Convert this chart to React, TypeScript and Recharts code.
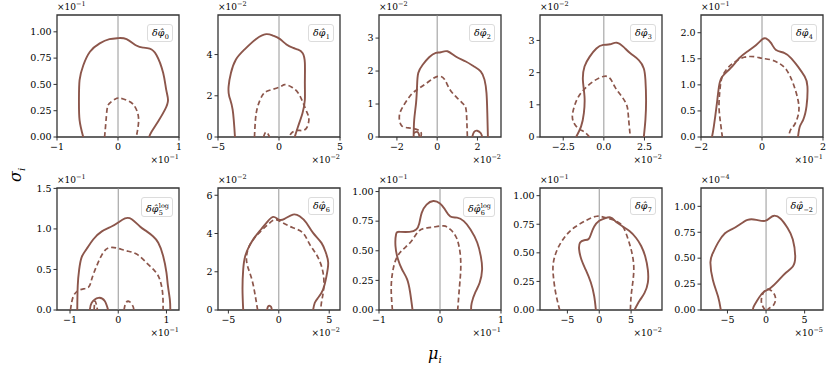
import {
  LineChart,
  Line,
  XAxis,
  YAxis,
  ReferenceLine,
  ReferenceArea,
} from "recharts";
import { ReactElement } from "react";

type Pt = [number, number];

// contour points, in the displayed (scaled) units
const p0Solid: Pt[] = [[-0.57, 0], [-0.63, 0.16], [-0.64, 0.35], [-0.63, 0.54], [-0.57, 0.68], [-0.46, 0.81], [-0.3, 0.89], [-0.14, 0.93], [0, 0.94], [0.14, 0.93], [0.3, 0.87], [0.41, 0.85], [0.52, 0.84], [0.63, 0.78], [0.74, 0.61], [0.79, 0.45], [0.82, 0.35], [0.77, 0.26], [0.66, 0.15], [0.55, 0.05], [0.51, 0]];
const p0Dash: Pt[] = [[-0.22, 0], [-0.2, 0.13], [-0.18, 0.26], [-0.14, 0.32], [-0.05, 0.36], [0.03, 0.37], [0.14, 0.35], [0.25, 0.31], [0.33, 0.21], [0.33, 0.1], [0.3, 0]];

const p1Solid: Pt[] = [[-3.61, 0], [-3.8, 1.33], [-4.08, 1.98], [-4.13, 2.46], [-3.94, 3.11], [-3.53, 3.76], [-2.84, 4.24], [-1.87, 4.76], [-1.05, 4.99], [-0.5, 4.92], [0.06, 4.76], [0.61, 4.49], [1.16, 4.32], [1.57, 4.24], [1.93, 4.08], [2.12, 3.6], [2.12, 2.62], [2.12, 1.81], [1.93, 1.17], [1.57, 0.52], [1.29, 0]];
const p1Dash: Pt[] = [[-2.01, 0], [-1.93, 0.84], [-1.74, 1.49], [-1.32, 2.06], [-0.77, 2.27], [0.06, 2.43], [0.47, 2.54], [1.02, 2.43], [1.57, 2.14], [1.98, 1.65], [2.31, 1.17], [2.45, 0.84], [2.26, 0.44], [1.85, 0.31], [1.43, 0.32], [1.02, 0.19], [0.88, 0]];
const p1DashSmall: Pt[] = [[-1.27, 0], [-1.1, 0.23], [-0.91, 0.16], [-0.77, 0]];

const p2Solid: Pt[] = [[-1.17, 0], [-1.14, 0.53], [-1.05, 1.03], [-1.0, 1.54], [-0.94, 1.94], [-0.72, 2.19], [-0.4, 2.42], [-0.07, 2.55], [0.18, 2.57], [0.51, 2.6], [0.92, 2.44], [1.42, 2.29], [1.83, 2.14], [2.16, 1.99], [2.35, 1.74], [2.45, 1.33], [2.49, 0.73], [2.52, 0]];
const p2SolidSmall: Pt[] = [[1.74, 0], [1.83, 0.15], [1.99, 0.19], [2.16, 0.12], [2.24, 0]];
const p2SolidLeft: Pt[] = [[-1.17, 0.12], [-0.97, 0.15], [-0.87, 0]];
const p2Dash: Pt[] = [[-0.81, 0], [-0.84, 0.17], [-1.3, 0.27], [-1.76, 0.34], [-1.88, 0.63], [-1.71, 0.91], [-1.3, 1.28], [-0.89, 1.48], [-0.4, 1.69], [0.02, 1.84], [0.35, 1.76], [0.59, 1.48], [0.92, 1.23], [1.25, 1.03], [1.42, 0.88], [1.47, 0.53], [1.5, 0]];

const p3Solid: Pt[] = [[-1.71, 0], [-1.4, 0.33], [-1.23, 0.74], [-1.19, 1.26], [-1.29, 1.77], [-1.19, 2.19], [-0.88, 2.49], [-0.46, 2.75], [-0.04, 2.86], [0.38, 2.88], [0.79, 2.93], [1.21, 2.8], [1.63, 2.6], [2.15, 2.39], [2.46, 2.13], [2.56, 1.77], [2.6, 1.15], [2.56, 0.54], [2.46, 0]];
const p3Dash: Pt[] = [[-0.88, 0], [-1.19, 0.15], [-1.6, 0.28], [-1.88, 0.48], [-1.92, 0.74], [-1.67, 1.15], [-1.25, 1.46], [-0.67, 1.72], [-0.04, 1.88], [0.38, 1.82], [0.69, 1.55], [1.1, 1.26], [1.42, 0.97], [1.52, 0.59], [1.63, 0]];

const p4Solid: Pt[] = [[-1.64, 0], [-1.58, 0.2], [-1.49, 0.59], [-1.41, 0.97], [-1.3, 1.16], [-1.03, 1.32], [-0.75, 1.51], [-0.48, 1.64], [-0.2, 1.76], [0, 1.87], [0.13, 1.89], [0.3, 1.8], [0.46, 1.67], [0.74, 1.61], [0.96, 1.51], [1.18, 1.35], [1.4, 1.16], [1.49, 0.97], [1.46, 0.59], [1.35, 0.33], [1.24, 0.2], [1.18, 0]];
const p4Dash: Pt[] = [[-1.3, 0], [-1.36, 0.27], [-1.41, 0.59], [-1.38, 0.9], [-1.3, 1.16], [-1.08, 1.35], [-0.86, 1.45], [-0.59, 1.53], [-0.25, 1.54], [0, 1.51], [0.3, 1.48], [0.57, 1.41], [0.8, 1.29], [1.02, 1.03], [1.18, 0.71], [1.2, 0.46], [1.07, 0.24], [0.94, 0.14], [0.87, 0]];

const p5Solid: Pt[] = [[-0.85, 0], [-0.84, 0.3], [-0.81, 0.5], [-0.76, 0.65], [-0.66, 0.75], [-0.52, 0.87], [-0.34, 0.97], [-0.14, 1.03], [0, 1.08], [0.14, 1.13], [0.28, 1.12], [0.45, 1.03], [0.59, 0.97], [0.72, 0.91], [0.83, 0.83], [0.93, 0.67], [1.0, 0.46], [1.03, 0.3], [1.07, 0.13], [1.08, 0]];
const p5SolidSmall: Pt[] = [[-0.59, 0], [-0.55, 0.09], [-0.41, 0.15], [-0.28, 0.11], [-0.21, 0]];
const p5Dash: Pt[] = [[-0.99, 0], [-0.93, 0.17], [-0.79, 0.25], [-0.62, 0.28], [-0.55, 0.38], [-0.45, 0.54], [-0.31, 0.71], [-0.17, 0.77], [0, 0.76], [0.17, 0.73], [0.38, 0.69], [0.59, 0.58], [0.76, 0.48], [0.86, 0.38], [0.92, 0.21], [0.93, 0]];
const p5DashSmallA: Pt[] = [[-0.5, 0], [-0.48, 0.11], [-0.43, 0]];
const p5DashSmallB: Pt[] = [[0.12, 0], [0.16, 0.09], [0.24, 0.1], [0.31, 0.04], [0.32, 0]];

const p6Solid: Pt[] = [[-3.53, 0], [-3.6, 1.08], [-3.53, 2.12], [-3.33, 2.82], [-2.93, 3.34], [-2.43, 3.77], [-1.77, 4.21], [-1.1, 4.64], [-0.53, 4.87], [0, 4.73], [0.57, 4.77], [1.4, 4.99], [2.07, 4.9], [2.73, 4.56], [3.4, 4.03], [4.23, 3.51], [4.67, 2.99], [4.9, 2.47], [4.73, 1.77], [4.4, 1.08], [3.9, 0.64], [3.57, 0.38], [3.4, 0]];
const p6SolidSmall: Pt[] = [[-1.17, 0], [-1.03, 0.21], [-0.77, 0.17], [-0.7, 0]];
const p6Dash: Pt[] = [[-2.1, 0], [-2.33, 0.73], [-2.67, 1.6], [-3.1, 2.3], [-3.2, 2.82], [-2.93, 3.34], [-2.27, 3.86], [-1.27, 4.38], [-0.53, 4.7], [-0.1, 4.7], [0.4, 4.56], [1.4, 4.3], [2.4, 4.03], [3.07, 3.43], [3.73, 2.9], [4.23, 2.3], [4.47, 1.6], [4.4, 0.9], [4.23, 0.38], [4.17, 0]];

const p7Solid: Pt[] = [[-0.45, 0], [-0.49, 0.15], [-0.54, 0.26], [-0.62, 0.34], [-0.69, 0.43], [-0.73, 0.54], [-0.72, 0.64], [-0.66, 0.66], [-0.5, 0.66], [-0.39, 0.68], [-0.34, 0.73], [-0.3, 0.82], [-0.22, 0.89], [-0.11, 0.92], [0, 0.9], [0.08, 0.85], [0.17, 0.79], [0.28, 0.78], [0.39, 0.75], [0.5, 0.68], [0.61, 0.57], [0.67, 0.45], [0.69, 0.34], [0.65, 0.23], [0.58, 0.15], [0.52, 0.06], [0.51, 0]];
const p7Dash: Pt[] = [[-0.78, 0], [-0.8, 0.17], [-0.78, 0.31], [-0.72, 0.43], [-0.61, 0.51], [-0.47, 0.58], [-0.36, 0.66], [-0.25, 0.69], [-0.11, 0.7], [0.06, 0.71], [0.17, 0.68], [0.27, 0.61], [0.33, 0.48], [0.34, 0.34], [0.32, 0.2], [0.29, 0]];

const p8Solid: Pt[] = [[-0.53, 0], [-0.79, 0.12], [-1.32, 0.24], [-2.11, 0.35], [-2.79, 0.44], [-3.16, 0.53], [-3.0, 0.59], [-2.37, 0.61], [-1.68, 0.62], [-1.32, 0.66], [-0.79, 0.73], [0, 0.78], [0.79, 0.8], [1.74, 0.81], [2.47, 0.78], [2.89, 0.76], [3.68, 0.73], [4.74, 0.69], [5.79, 0.63], [6.58, 0.56], [7.21, 0.47], [7.63, 0.35], [7.63, 0.24], [7.11, 0.15], [6.32, 0.08], [5.53, 0]];
const p8Dash: Pt[] = [[-6.21, 0], [-6.84, 0.15], [-7.21, 0.3], [-7.21, 0.41], [-6.58, 0.53], [-5.26, 0.65], [-3.68, 0.73], [-1.84, 0.79], [-0.37, 0.82], [0.79, 0.81], [2.11, 0.79], [3.42, 0.75], [4.21, 0.67], [5.0, 0.53], [5.42, 0.38], [5.26, 0.24], [5.0, 0.12], [4.89, 0]];

const p9Solid: Pt[] = [[-5.86, 0], [-6.22, 0.13], [-6.89, 0.29], [-7.21, 0.46], [-6.89, 0.55], [-6.22, 0.65], [-5.32, 0.74], [-4.41, 0.78], [-3.51, 0.82], [-2.39, 0.87], [-1.26, 0.87], [-0.14, 0.86], [0.54, 0.89], [1.08, 0.91], [1.89, 0.88], [2.79, 0.79], [3.47, 0.68], [3.78, 0.52], [3.47, 0.42], [2.57, 0.36], [1.67, 0.29], [0.54, 0.21], [-0.36, 0.17], [-1.17, 0.09], [-1.62, 0.03], [-1.71, 0]];
const p9Dash: Pt[] = [[-0.14, 0], [-0.59, 0.07], [-0.45, 0.15], [0.09, 0.2], [0.77, 0.18], [1.22, 0.12], [1.0, 0.05], [0.45, 0.02], [0.18, 0]];

const solidCurves: Pt[][][] = [
  [p0Solid], [p1Solid], [p2Solid, p2SolidSmall, p2SolidLeft], [p3Solid], [p4Solid],
  [p5Solid, p5SolidSmall], [p6Solid, p6SolidSmall], [p7Solid], [p8Solid], [p9Solid],
];
const dashedCurves: Pt[][][] = [
  [p0Dash], [p1Dash, p1DashSmall], [p2Dash], [p3Dash], [p4Dash],
  [p5Dash, p5DashSmallA, p5DashSmallB], [p6Dash], [p7Dash], [p8Dash], [p9Dash],
];

const subscripts = ["0", "1", "2", "3", "4", "5", "6", "6", "7", "−2"];
const superscripts = ["", "", "", "", "", "log", "", "log", "", ""];
const xDomains: Pt[] = [[-1, 1], [-5, 5], [-2.89, 3.17], [-3.93, 3.58], [-2, 2], [-1.27, 1.26], [-6.03, 6.07], [-1, 1], [-9.3, 9.85], [-8.43, 7.38]];
const yMaxes = [1.16, 5.92, 3.7, 3.79, 2.34, 1.505, 6.38, 1.03, 1.067, 1.177];
const xTicks = [[-1, 0, 1], [-5, 0, 5], [-2, 0, 2], [-2.5, 0, 2.5], [-2, 0, 2], [-1, 0, 1], [-5, 0, 5], [-1, 0, 1], [-5, 0, 5], [-5, 0, 5]];
const yTicks = [
  [0, 0.25, 0.5, 0.75, 1], [0, 2, 4], [0, 1, 2, 3], [0, 1, 2, 3], [0, 0.5, 1, 1.5, 2],
  [0, 0.5, 1, 1.5], [0, 2, 4, 6], [0, 0.25, 0.5, 0.75, 1], [0, 0.25, 0.5, 0.75, 1], [0, 0.25, 0.5, 0.75, 1],
];
const xDecimals = [0, 0, 0, 1, 0, 0, 0, 0, 0, 0];
const yDecimals = [2, 0, 0, 0, 1, 1, 0, 2, 2, 2];
const yExponents = ["−1", "−2", "−2", "−2", "−1", "−1", "−2", "−1", "−1", "−4"];
const xExponents = ["−1", "−2", "−2", "−2", "−1", "−1", "−2", "−1", "−2", "−5"];

const COL_LEFT = [57, 218, 379, 540, 701];
const ROW_TOP = [15, 188];
const PW = 122;
const PH = 122;
const BROWN = "#8c564b";
const FONT = "DejaVu Serif";

const fmt = (d: number, v: number) => v.toFixed(d).replace("-", "−");
const toRows = (pts: Pt[]) => pts.map(([x, y]) => ({ x, y }));

// tick labels drawn as plain svg text so the serif face really applies
const xTick = (d: number) => (props: any) => (
  <text
    x={props.x}
    y={props.y}
    dy="0.75em"
    textAnchor="middle"
    fontFamily={FONT}
    fontSize={9.5}
    fill="#000"
  >
    {fmt(d, props.payload.value)}
  </text>
);
const yTick = (d: number) => (props: any) => (
  <text
    x={props.x}
    y={props.y}
    dy="0.35em"
    textAnchor="end"
    fontFamily={FONT}
    fontSize={9.5}
    fill="#000"
  >
    {fmt(d, props.payload.value)}
  </text>
);

function Exp({ e }: { e: string }): ReactElement {
  return (
    <span>
      ×10<span style={{ fontSize: 6.5, position: "relative", top: -4 }}>{e}</span>
    </span>
  );
}

function Panel({ i }: { i: number }): ReactElement {
  const L = COL_LEFT[i % 5];
  const T = ROW_TOP[Math.floor(i / 5)];
  const [x0, x1] = xDomains[i];
  const yMax = yMaxes[i];
  return (
    <>
      <div style={{ position: "absolute", left: L - 40, top: T - 10 }}>
        <LineChart
          width={PW + 50}
          height={PH + 35}
          margin={{ top: 10, right: 10, left: 0, bottom: 0 }}
        >
          <XAxis
            type="number"
            dataKey="x"
            domain={[x0, x1]}
            ticks={xTicks[i]}
            allowDataOverflow
            tick={xTick(xDecimals[i])}
            tickSize={3.5}
            tickLine={{ stroke: "#333" }}
            axisLine={false}
            height={25}
          />
          <YAxis
            type="number"
            dataKey="y"
            domain={[0, yMax]}
            ticks={yTicks[i]}
            allowDataOverflow
            tick={yTick(yDecimals[i])}
            tickSize={3.5}
            tickLine={{ stroke: "#333" }}
            axisLine={false}
            width={40}
          />
          <ReferenceLine x={0} stroke="#8a8a8a" strokeWidth={0.9} />
          {solidCurves[i].map((c, k) => (
            <Line
              key={"s" + k}
              data={toRows(c)}
              dataKey="y"
              type="natural"
              stroke={BROWN}
              strokeWidth={1.9}
              dot={false}
              activeDot={false}
              isAnimationActive={false}
            />
          ))}
          {dashedCurves[i].map((c, k) => (
            <Line
              key={"d" + k}
              data={toRows(c)}
              dataKey="y"
              type="natural"
              stroke={BROWN}
              strokeWidth={1.7}
              strokeDasharray="5 3"
              dot={false}
              activeDot={false}
              isAnimationActive={false}
            />
          ))}
          <ReferenceArea
            x1={x0}
            x2={x1}
            y1={0}
            y2={yMax}
            fill="none"
            fillOpacity={0}
            stroke="#333"
            strokeWidth={1.3}
          />
        </LineChart>
      </div>
      <div
        style={{
          position: "absolute",
          right: 830 - (L + PW) + 6,
          top: T + 9,
          border: "1px solid #dcdcdc",
          borderRadius: 3,
          background: "rgba(255,255,255,0.85)",
          padding: superscripts[i] ? "3px 3px 1px 4px" : "2px 3px 2px 4px",
          fontFamily: FONT,
          fontSize: 9.5,
          lineHeight: "12px",
          display: "flex",
          alignItems: "flex-end",
        }}
      >
        <span style={{ fontStyle: "italic" }}>δφ̂</span>
        <span
          style={{
            display: "inline-flex",
            flexDirection: "column",
            fontSize: 6.5,
            lineHeight: "7px",
            marginLeft: 0.5,
            position: "relative",
            top: 2,
          }}
        >
          {superscripts[i] ? <span>{superscripts[i]}</span> : null}
          <span>{subscripts[i]}</span>
        </span>
      </div>
      <div
        style={{
          position: "absolute",
          left: L,
          top: T - 14,
          fontFamily: FONT,
          fontSize: 9,
          lineHeight: "12px",
          whiteSpace: "nowrap",
        }}
      >
        <Exp e={yExponents[i]} />
      </div>
      <div
        style={{
          position: "absolute",
          right: 830 - (L + PW),
          top: T + PH + 17,
          fontFamily: FONT,
          fontSize: 9,
          lineHeight: "12px",
          whiteSpace: "nowrap",
        }}
      >
        <Exp e={xExponents[i]} />
      </div>
    </>
  );
}

export default function App(): ReactElement {
  return (
    <div
      style={{
        position: "absolute",
        left: 0,
        top: 0,
        width: 830,
        height: 367,
        background: "#fff",
        overflow: "hidden",
        fontFamily: FONT,
      }}
    >
      {subscripts.map((_, i) => (
        <Panel key={i} i={i} />
      ))}
      <div
        style={{
          position: "absolute",
          left: 6,
          top: 162,
          width: 20,
          height: 20,
          transform: "rotate(-90deg)",
          fontSize: 16,
          fontStyle: "italic",
          lineHeight: "20px",
          whiteSpace: "nowrap",
        }}
      >
        σ<span style={{ fontSize: 10, position: "relative", top: 4 }}>i</span>
      </div>
      <div
        style={{
          position: "absolute",
          left: 428,
          top: 344,
          fontSize: 16,
          fontStyle: "italic",
          lineHeight: "20px",
          whiteSpace: "nowrap",
        }}
      >
        μ<span style={{ fontSize: 10, position: "relative", top: 4 }}>i</span>
      </div>
    </div>
  );
}
